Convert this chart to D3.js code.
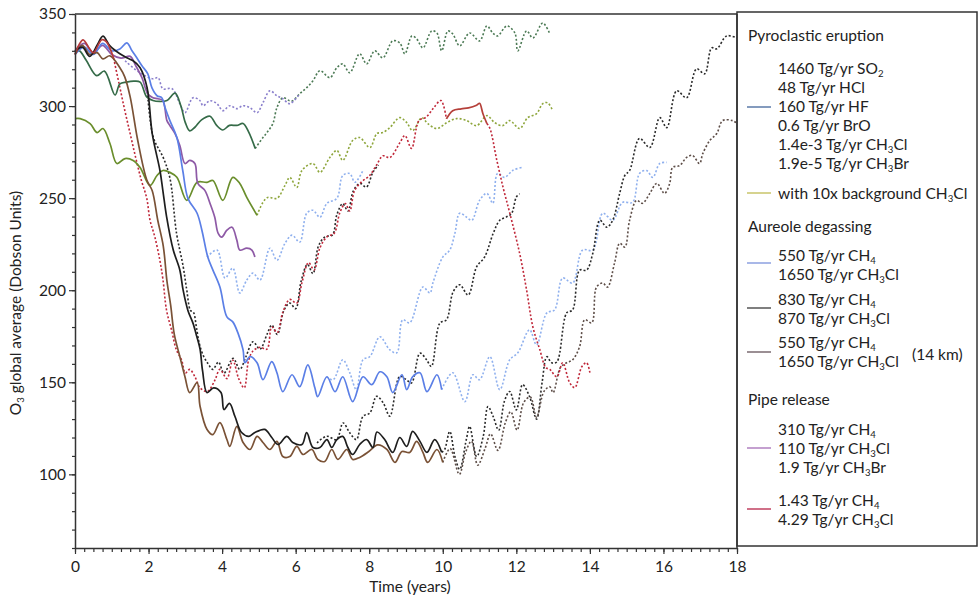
<!DOCTYPE html>
<html>
<head>
<meta charset="utf-8">
<script src="https://cdn.jsdelivr.net/npm/d3@7"></script>
<style>
  body { margin: 0; background: #fff; }
  svg { font-family: Lato, "Open Sans", sans-serif; }
</style>
</head>
<body>
<div id="container"></div>
<script>
// ---- data: [time (years), O3 (DU)] ----

// pyroclastic eruption
const pyroSolid = [[0,329],[0.12,330],[0.3,325],[0.59,316.5],[0.8,319],[1.09,306],[1.22,312],[1.4,313],[1.6,313.5],[1.77,313],[1.95,305],[2.12,303],[2.3,302.5],[2.5,303],[2.72,307],[2.88,300],[3.0,291],[3.12,286.5],[3.26,288.5],[3.44,292.5],[3.67,294.5],[3.85,289.5],[4.02,287],[4.2,289.5],[4.4,289.5],[4.57,290.5],[4.72,286],[4.9,277]];
const pyroDotted = [[4.9,277],[5.11,282.9],[5.22,285.6],[5.38,290.5],[5.49,299.1],[5.65,304.5],[5.84,302.9],[5.92,302.9],[6.11,306.7],[6.3,310],[6.47,313.7],[6.66,319.2],[6.93,315.4],[7.12,320.8],[7.28,322.9],[7.47,318.1],[7.74,328.4],[7.93,322.9],[8.15,330],[8.37,326.2],[8.64,335.4],[8.83,334.3],[8.97,328.4],[9.16,338.1],[9.29,336.5],[9.46,331.6],[9.7,340.8],[9.84,339.7],[9.97,330],[10.14,340.8],[10.27,339.2],[10.46,332.7],[10.73,339.7],[11.0,335.4],[11.2,343.5],[11.36,339.7],[11.49,338.1],[11.74,343.5],[11.96,339.7],[12.04,330],[12.28,340.8],[12.45,337],[12.72,345.1],[12.91,339.2]];

// with 10x background CH3Cl
const bg10Solid = [[0,293.2],[0.14,293.2],[0.41,290.5],[0.6,285.6],[0.76,287.8],[0.95,279.7],[1.14,268.8],[1.36,271.5],[1.58,270.5],[1.77,266.7],[2.04,256.9],[2.23,262.3],[2.39,265],[2.58,264],[2.77,261.3],[3.04,248.8],[3.32,258.6],[3.59,258.6],[3.75,259.6],[4.02,248.8],[4.29,261.3],[4.48,258],[4.67,250.4],[4.95,240.7]];
const bg10Dotted = [[4.95,240.7],[5.11,247.7],[5.24,250.4],[5.49,249.9],[5.71,256.9],[5.84,261.3],[6.03,255.8],[6.17,265],[6.47,268.8],[6.66,264],[6.93,272.1],[7.12,275.9],[7.28,270.5],[7.55,281.3],[7.74,282.9],[8.02,277.5],[8.21,285.1],[8.37,285.6],[8.56,288.3],[8.83,293.7],[9.02,291],[9.18,286.7],[9.43,293.7],[9.59,290.5],[9.84,287.8],[10.11,291],[10.38,293.2],[10.65,292.1],[10.92,289.4],[11.2,294.8],[11.41,291],[11.63,289.4],[11.82,292.1],[12.09,287.8],[12.31,293.7],[12.55,295.9],[12.72,301.3],[12.85,301.8],[12.99,297.5]];

// aureole degassing, 550 Tg/yr CH4
const blueSolid = [[0,328],[0.25,332],[0.5,328],[0.75,334],[1.0,330],[1.22,331],[1.41,334.3],[1.55,330],[1.68,326.2],[1.82,321.9],[1.98,317.5],[2.09,310],[2.23,305.6],[2.36,304.5],[2.45,299.1],[2.58,292.1],[2.77,282.9],[2.93,265],[3.07,249.9],[3.32,241.8],[3.45,232.6],[3.61,218],[3.75,210.9],[3.94,201.7],[4.13,185.5],[4.29,182.8],[4.43,176.8],[4.57,167.6],[4.62,160.6],[4.76,163.9],[4.95,160.6],[5.11,151.4],[5.35,161.2],[5.49,155.2],[5.65,144.9],[5.9,154.1],[6.11,147.6],[6.33,159.5],[6.52,147.1],[6.6,142.2],[6.85,153],[7.07,144.9],[7.28,153],[7.55,139.5],[7.83,153],[8.07,148.7],[8.29,155.7],[8.48,153],[8.64,144.4],[8.89,154.1],[9.02,146],[9.18,153],[9.38,155.2],[9.57,144.9],[9.84,154.1],[9.97,146]];
const blueDottedA = [[3.59,218],[3.86,221.8],[4.08,206.6],[4.29,212],[4.48,198.5],[4.67,205.5],[4.84,209.3],[5.03,205.5],[5.3,222.8],[5.49,216.3],[5.71,225.5],[5.9,229.9],[6.11,226.1],[6.3,241.8],[6.47,243.4],[6.66,239.6],[6.85,247.2],[7.12,249.9],[7.28,262.3],[7.47,263.4],[7.61,258.6],[7.83,265]];
const blueDottedB = [[6.84,153],[7.02,151.4],[7.28,162.2],[7.47,155.2],[7.65,146],[7.83,162.2],[8.02,164],[8.29,174.7],[8.56,167.6],[8.75,166],[8.91,183.9],[9.1,182.3],[9.46,201.7],[9.65,198.5],[9.73,203.9],[10.0,218],[10.19,221.8],[10.33,231],[10.46,241.8],[10.65,239.6],[10.79,238],[11.0,248.8],[11.2,252.6],[11.36,247.2],[11.49,263.4],[11.68,261.3],[11.9,265],[12.15,266.7]];
const blueDottedC = [[9.97,146],[10.27,155.2],[10.6,139.5],[10.82,154.1],[11.0,151.4],[11.28,163.9],[11.55,146],[11.82,162.2],[12.04,166],[12.36,178.5],[12.55,170.3],[12.83,187.7],[13.04,189.3],[13.26,206.6],[13.53,203.9],[13.8,221.8],[14.08,221.8],[14.35,241.8],[14.62,238],[14.89,247.7],[15.16,247.7],[15.35,263.4],[15.54,265],[15.71,261.3],[15.9,268.8],[16.09,269.4]];

// aureole degassing, 830 Tg/yr CH4
const blackSolid = [[0,330],[0.2,332],[0.4,327],[0.6,333],[0.76,338],[0.95,332.7],[1.22,328.4],[1.41,326.2],[1.58,324.6],[1.77,320.8],[1.96,310],[2.1,285],[2.31,265],[2.39,254],[2.49,240],[2.67,222],[2.85,211],[2.94,200],[3.07,189],[3.21,182],[3.31,175],[3.4,168],[3.47,156],[3.59,144.4],[3.77,147],[3.97,144.4],[4.05,135.2],[4.2,138.5],[4.35,131.4],[4.53,122.7],[4.73,120.6],[4.89,122.7],[5.16,124.4],[5.35,120],[5.52,116.2],[5.76,120.6],[5.92,117.3],[6.17,116.2],[6.3,122.7],[6.47,114.6],[6.66,114.6],[6.85,118.9],[6.98,114.6],[7.12,118.9],[7.28,120.6],[7.42,114.6],[7.55,110.8],[7.74,116.2],[7.93,118.9],[8.1,114.6],[8.21,123],[8.42,118.9],[8.64,111.9],[8.83,120],[9.02,115.2],[9.18,123.3],[9.38,117.9],[9.57,111.9],[9.78,118.9],[9.97,112]];
const blackDottedA = [[1.96,310],[2.13,283],[2.4,272],[2.58,261],[2.76,231],[2.94,213],[3.04,200],[3.14,189],[3.22,188],[3.3,180],[3.38,171],[3.5,164],[3.62,160],[3.75,157],[3.9,161],[4.05,155],[4.3,163],[4.48,157],[4.65,164],[4.84,172],[5.03,168],[5.22,176],[5.35,181],[5.5,176],[5.68,189],[5.84,193],[6.0,190],[6.15,205],[6.32,214],[6.47,209],[6.62,224],[6.8,229],[7.0,230],[7.12,241],[7.28,247],[7.42,243],[7.57,254],[7.75,258],[7.92,256],[8.1,264],[8.25,268]];
const blackDottedB = [[6.58,117.1],[6.84,120.7],[7.11,118.9],[7.29,127.9],[7.47,122.6],[7.65,118.9],[7.83,131.5],[8.02,133.4],[8.2,142.4],[8.38,138.8],[8.56,131.6],[8.83,153.2],[9.01,151.4],[9.15,149.6],[9.38,165.8],[9.56,162.2],[9.69,158.6],[9.92,182.1],[10.1,183.9],[10.28,199],[10.46,203],[10.69,197.4],[10.92,212.7],[11.14,218.1],[11.37,230.8],[11.55,238],[11.73,239.8],[11.87,241.6],[12.0,250.6],[12.09,252.4]];
const blackDottedC = [[9.97,112],[10.05,113.5],[10.19,123.3],[10.33,109.7],[10.46,102.7],[10.64,118.9],[10.73,126],[10.92,109.7],[11.1,120.6],[11.23,136.8],[11.37,131.4],[11.52,124],[11.68,140],[11.82,145],[12.0,135],[12.17,148.7],[12.36,142.2],[12.55,130],[12.7,149.8],[12.83,163.9],[12.96,160.6],[13.1,161],[13.37,187.7],[13.53,189.3],[13.72,210.9],[13.91,210.9],[14.08,220.1],[14.27,238],[14.46,234.2],[14.62,238],[14.81,252.6],[14.95,262.3],[15.08,265],[15.35,282.4],[15.63,277.5],[15.9,293.7],[16.09,288.3],[16.36,308.3],[16.63,304.5],[16.9,320.2],[17.12,317.5],[17.31,331.6],[17.45,331.1],[17.72,338.1],[18.0,337]];

// aureole degassing, 550 Tg/yr CH4 at 14 km
const brownSolid = [[0,328],[0.2,333],[0.4,328],[0.6,329],[0.76,325.6],[0.95,327.3],[1.22,320.8],[1.35,316],[1.5,305],[1.7,282],[1.95,260],[2.1,254],[2.25,238],[2.4,224],[2.5,205],[2.6,192],[2.7,176],[2.85,164],[2.99,153],[3.12,144.4],[3.32,149.8],[3.4,137],[3.59,124.4],[3.75,121.6],[3.94,128.1],[4.13,118.9],[4.21,115.2],[4.4,126],[4.57,117.3],[4.76,113.5],[4.95,120.6],[5.11,117.3],[5.3,113.5],[5.49,117.9],[5.65,109.7],[5.84,109.7],[6.03,115.2],[6.2,110.8],[6.44,113.5],[6.6,108.1],[6.79,107],[6.98,113.5],[7.15,108.1],[7.39,113.5],[7.55,108.1],[7.74,109.2],[7.99,112.4],[8.23,116],[8.48,113.5],[8.7,106.5],[8.89,112.4],[9.1,111.9],[9.29,117.9],[9.46,111.9],[9.59,106.5],[9.84,113.5],[10.0,106.5]];
const brownDotted = [[10.0,106.5],[10.2,114],[10.45,100],[10.62,112],[10.78,118],[10.95,105],[11.15,114],[11.3,122],[11.5,113],[11.7,128],[11.85,134],[12.02,124],[12.2,139],[12.38,142],[12.55,131],[12.75,145],[12.91,147.6],[13.0,144.4],[13.2,158],[13.37,160.6],[13.53,162.2],[13.72,169.3],[13.86,183.9],[14.05,182.3],[14.18,201.7],[14.35,203.9],[14.48,201.7],[14.67,214.7],[14.81,225.5],[14.95,223.4],[15.08,238],[15.27,248.8],[15.43,247.2],[15.63,252.6],[15.82,258],[16.03,252.6],[16.17,258],[16.25,266.7],[16.44,267.7],[16.63,272.1],[16.79,273.2],[16.98,268.8],[17.07,274.2],[17.26,281.3],[17.45,285.1],[17.61,292.1],[17.88,292.1],[18.0,290.5]];

// pipe release, 310 Tg/yr CH4
const purpleSolid = [[0,330],[0.25,334],[0.5,329],[0.75,333],[1.0,328],[1.25,326],[1.5,327],[1.65,322],[1.82,315.4],[1.98,306.7],[2.12,304.5],[2.26,304],[2.39,302.9],[2.5,292.1],[2.58,289.4],[2.72,285],[2.85,278.6],[2.99,268.8],[3.12,270.5],[3.26,268.8],[3.34,258],[3.53,254.2],[3.67,247.2],[3.8,239.6],[3.89,231],[3.99,228.8],[4.13,232.6],[4.27,234.2],[4.4,227.2],[4.48,221.8],[4.67,222.8],[4.81,221.8],[4.89,218]];
const purpleDotted = [[1.36,324.6],[1.77,318],[2.12,314.8],[2.26,315.4],[2.39,309.4],[2.64,309.4],[2.85,301.3],[2.99,296.4],[3.21,304.5],[3.4,302.9],[3.48,300.2],[3.67,302.9],[3.86,301.3],[4.02,297.5],[4.21,300.2],[4.4,298.6],[4.57,300.2],[4.76,299.1],[4.95,296.4],[5.11,301.8],[5.3,308.3],[5.49,305.6],[5.65,304],[5.84,301.3],[6.11,306.7]];

// pipe release, 1.43 Tg/yr CH4
const redSolidA = [[0,328],[0.1,333],[0.22,336],[0.4,331],[0.5,329],[0.73,336],[0.85,335],[1.05,326]];
const redDottedA = [[1.05,326],[1.2,312],[1.35,298],[1.5,285],[1.65,272],[1.8,260],[1.95,250],[2.04,238],[2.17,229],[2.31,216],[2.39,206],[2.49,189],[2.63,178],[2.75,168],[2.9,162],[3.0,155],[3.12,157],[3.26,153],[3.4,147],[3.6,145],[3.8,151],[3.94,157],[4.13,152],[4.29,162],[4.45,152],[4.6,147],[4.72,162],[4.84,167],[5.03,169],[5.22,168],[5.35,180],[5.5,177],[5.65,188],[5.84,195],[6.03,193],[6.17,204],[6.35,215],[6.5,211],[6.66,223],[6.85,229],[7.05,231],[7.2,242],[7.35,247],[7.47,243],[7.6,254],[7.8,259],[8.0,262],[8.2,268],[8.37,273],[8.56,272],[8.83,280],[8.97,284],[9.15,277],[9.35,292],[9.55,294],[9.75,299],[9.95,303],[10.1,293]];
const redSolidB = [[10.1,293],[10.27,297.5],[10.5,298.5],[10.7,299],[10.92,300.5],[11.0,301.5],[11.09,296],[11.2,290.5]];
const redDottedB = [[11.2,290.5],[11.28,288],[11.47,270.5],[11.65,255],[11.82,242],[12.09,220],[12.28,200],[12.45,180],[12.64,167.6],[12.8,158],[12.91,157],[13.1,153],[13.26,160.6],[13.45,149.8],[13.59,147.1],[13.78,158.4],[13.91,160.6],[14.0,155.2]];

// axis ticks
const yMajorTicks = [100, 150, 200, 250, 300, 350];
const xMajorTicks = [0, 2, 4, 6, 8, 10, 12, 14, 16, 18];

// legend text
const pyroLabels = ["1460 Tg/yr SO_2", "48 Tg/yr HCl", "160 Tg/yr HF", "0.6 Tg/yr BrO", "1.4e-3 Tg/yr CH_3Cl", "1.9e-5 Tg/yr CH_3Br"];
const bg10Labels = ["with 10x background CH_3Cl"];
const aur550Labels = ["550 Tg/yr CH_4", "1650 Tg/yr CH_3Cl"];
const aur830Labels = ["830 Tg/yr CH_4", "870 Tg/yr CH_3Cl"];
const aur14Labels = ["550 Tg/yr CH_4", "1650 Tg/yr CH_3Cl"];
const pipe310Labels = ["310 Tg/yr CH_4", "110 Tg/yr CH_3Cl", "1.9 Tg/yr CH_3Br"];
const pipe143Labels = ["1.43 Tg/yr CH_4", "4.29 Tg/yr CH_3Cl"];

// ---- drawing ----
const width = 979, height = 599;
const FONT = 15.5;

const svg = d3.select("#container").append("svg")
    .attr("width", width)
    .attr("height", height);
svg.append("rect").attr("width", width).attr("height", height).attr("fill", "#fff");

const x = d3.scaleLinear().domain([0, 18]).range([75, 737]);
const y = d3.scaleLinear().domain([60, 350]).range([548, 14]);

// write a string, turning "_3" into a small lowered 3
function richText(sel, str) {
    const parts = str.split(/_(\d)/);
    let sub = false;
    parts.forEach((p, i) => {
        if (i % 2 === 1) {
            sel.append("tspan").attr("dy", 2.5).attr("font-size", FONT * 0.62).text(p);
            sub = true;
        } else if (p) {
            sel.append("tspan").attr("dy", sub ? -2.5 : 0).text(p);
            sub = false;
        }
    });
}

const line = d3.line()
    .x(d => x(d[0]))
    .y(d => y(d[1]))
    .curve(d3.curveCatmullRom.alpha(0.5));

const dotted = "2,2";
const series = [
    {data: pyroDotted, color: "#4c7a55", dash: dotted},
    {data: purpleDotted, color: "#8a7fcc", dash: dotted},
    {data: bg10Dotted, color: "#8ea63c", dash: dotted},
    {data: blueDottedA, color: "#8fb0ee", dash: dotted},
    {data: blueDottedB, color: "#8fb0ee", dash: dotted},
    {data: blueDottedC, color: "#8fb0ee", dash: dotted},
    {data: blackDottedA, color: "#2a2a2a", dash: dotted},
    {data: redDottedA, color: "#c0283a", dash: dotted},
    {data: blackDottedB, color: "#2a2a2a", dash: dotted},
    {data: blackDottedC, color: "#2a2a2a", dash: dotted},
    {data: brownDotted, color: "#5e4e48", dash: dotted},
    {data: redDottedB, color: "#c0283a", dash: dotted},
    {data: bg10Solid, color: "#6a8e2c", dash: null},
    {data: pyroSolid, color: "#356b48", dash: null},
    {data: purpleSolid, color: "#8e5aa6", dash: null},
    {data: blueSolid, color: "#5b7fe6", dash: null},
    {data: brownSolid, color: "#7a5236", dash: null},
    {data: blackSolid, color: "#1e1e1e", dash: null},
    {data: redSolidA, color: "#b53a3a", dash: null},
    {data: redSolidB, color: "#b5403a", dash: null}
];

const gLines = svg.append("g");
gLines.selectAll("path")
    .data(series)
    .enter()
    .append("path")
    .attr("fill", "none")
    .attr("stroke", d => d.color)
    .attr("stroke-width", d => d.dash ? 1.6 : 1.7)
    .attr("stroke-dasharray", d => d.dash)
    .attr("stroke-linejoin", "round")
    .attr("d", d => line(d.data));

// axes
const axisColor = "#333";
const gy = svg.append("g").attr("transform", "translate(75,0)");
gy.call(d3.axisLeft(y).tickValues(d3.range(60, 351, 10)).tickSize(3).tickFormat("").tickSizeOuter(0));
gy.call(g => g.select(".domain").remove());
svg.append("g").attr("transform", "translate(75,0)")
    .call(d3.axisLeft(y).tickValues(yMajorTicks).tickSize(6).tickPadding(3).tickSizeOuter(0));

const gx = svg.append("g").attr("transform", "translate(0,548)");
gx.call(d3.axisBottom(x).tickValues(d3.range(0, 18.01, 0.25)).tickSize(4).tickFormat("").tickSizeOuter(0));
gx.call(g => g.select(".domain").remove());
svg.append("g").attr("transform", "translate(0,548)")
    .call(d3.axisBottom(x).tickValues(xMajorTicks).tickSize(6).tickPadding(7).tickSizeOuter(0));

svg.selectAll(".tick line").attr("stroke", axisColor).attr("stroke-width", 1.2);
svg.selectAll(".domain").attr("stroke", axisColor).attr("stroke-width", 1.5);
svg.selectAll(".tick text")
    .attr("font-size", FONT)
    .attr("font-family", "Lato, 'Open Sans', sans-serif")
    .attr("fill", "#222");

// frame top and right
svg.append("line").attr("x1", x(0)).attr("x2", x(18)).attr("y1", y(350)).attr("y2", y(350))
    .attr("stroke", axisColor).attr("stroke-width", 1.5);
svg.append("line").attr("x1", x(18)).attr("x2", x(18)).attr("y1", y(350)).attr("y2", y(60))
    .attr("stroke", axisColor).attr("stroke-width", 1.5);

// axis titles
svg.append("text")
    .attr("x", 410).attr("y", 592)
    .attr("text-anchor", "middle")
    .attr("font-size", FONT).attr("fill", "#222")
    .text("Time (years)");

const yTitle = svg.append("text")
    .attr("transform", "translate(21,303) rotate(-90)")
    .attr("text-anchor", "middle")
    .attr("font-size", FONT).attr("fill", "#222");
richText(yTitle, "O_3 global average (Dobson Units)");

// legend
const gLeg = svg.append("g");
gLeg.append("rect")
    .attr("x", 737).attr("y", 12)
    .attr("width", 240).attr("height", 534)
    .attr("fill", "none").attr("stroke", axisColor).attr("stroke-width", 1.5);

const headings = [
    {text: "Pyroclastic eruption", y: 41},
    {text: "Aureole degassing", y: 232},
    {text: "Pipe release", y: 405}
];
gLeg.selectAll("text.head")
    .data(headings)
    .enter()
    .append("text")
    .attr("class", "head")
    .attr("x", 748).attr("y", d => d.y)
    .attr("font-size", FONT).attr("fill", "#222")
    .text(d => d.text);

const entries = [
    {labels: pyroLabels, y0: 74, swatch: 107, color: "#5b7aa8"},
    {labels: bg10Labels, y0: 199, swatch: 193, color: "#c9c46a"},
    {labels: aur550Labels, y0: 261, swatch: 263, color: "#8da0e0"},
    {labels: aur830Labels, y0: 305, swatch: 308, color: "#555"},
    {labels: aur14Labels, y0: 348, swatch: 352, color: "#7a6a70"},
    {labels: pipe310Labels, y0: 435, swatch: 448, color: "#b080c0"},
    {labels: pipe143Labels, y0: 506, swatch: 509, color: "#c04060"}
];
const lineStep = 19;
entries.forEach(e => {
    e.labels.forEach((lab, i) => {
        const t = gLeg.append("text")
            .attr("x", 778).attr("y", e.y0 + i * lineStep)
            .attr("font-size", FONT).attr("fill", "#222");
        richText(t, lab);
    });
    gLeg.append("line")
        .attr("x1", 747).attr("x2", 771)
        .attr("y1", e.swatch).attr("y2", e.swatch)
        .attr("stroke", e.color).attr("stroke-width", 1.5);
});
gLeg.append("text")
    .attr("x", 912).attr("y", 360)
    .attr("font-size", FONT).attr("fill", "#222")
    .text("(14 km)");
</script>
</body>
</html>
